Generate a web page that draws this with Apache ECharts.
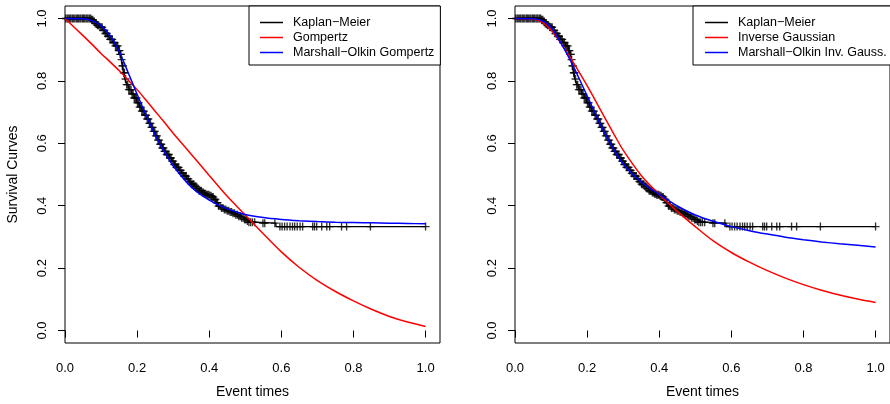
<!DOCTYPE html>
<html><head><meta charset="utf-8">
<script src="https://cdn.jsdelivr.net/npm/echarts@6.0.0/dist/echarts.min.js"></script>
<style>html,body{margin:0;padding:0;background:#fff}#c{width:890px;height:404px}</style>
</head><body><div id="c"></div>
<script>
const xTicks = [0, 0.2, 0.4, 0.6, 0.8, 1.0];
const yTicks = [0, 0.2, 0.4, 0.6, 0.8, 1.0];

// Kaplan-Meier step curve (change points)
const kmTime = [0, 0.072, 0.078, 0.084, 0.09, 0.097, 0.104, 0.111, 0.118, 0.125, 0.132, 0.14, 0.148, 0.153, 0.156, 0.159, 0.162, 0.166, 0.171, 0.177, 0.185, 0.192, 0.199, 0.206, 0.213, 0.22, 0.226, 0.233, 0.239, 0.245, 0.251, 0.257, 0.263, 0.27, 0.276, 0.282, 0.289, 0.296, 0.303, 0.309, 0.316, 0.323, 0.33, 0.337, 0.344, 0.351, 0.358, 0.365, 0.372, 0.379, 0.386, 0.393, 0.401, 0.408, 0.413, 0.419, 0.425, 0.433, 0.441, 0.449, 0.457, 0.466, 0.474, 0.482, 0.49, 0.497, 0.503, 0.51, 0.53, 0.585];
const kmSurv = [1.0, 0.996, 0.99, 0.984, 0.978, 0.972, 0.962, 0.952, 0.943, 0.933, 0.923, 0.912, 0.897, 0.885, 0.868, 0.848, 0.826, 0.806, 0.788, 0.772, 0.758, 0.745, 0.73, 0.716, 0.703, 0.69, 0.678, 0.664, 0.651, 0.638, 0.624, 0.61, 0.597, 0.585, 0.574, 0.564, 0.553, 0.543, 0.532, 0.523, 0.513, 0.504, 0.495, 0.486, 0.477, 0.469, 0.462, 0.455, 0.448, 0.442, 0.438, 0.435, 0.432, 0.428, 0.42, 0.41, 0.399, 0.393, 0.388, 0.384, 0.38, 0.376, 0.371, 0.366, 0.361, 0.356, 0.351, 0.347, 0.344, 0.333];
const kmLastTime = 1.0;

// censoring times ("+" marks)
const censTime = [0.002, 0.006, 0.009, 0.013, 0.016, 0.02, 0.023, 0.027, 0.031, 0.034, 0.037, 0.041, 0.044, 0.048, 0.051, 0.054, 0.058, 0.061, 0.064, 0.068, 0.071, 0.074, 0.077, 0.081, 0.084, 0.087, 0.09, 0.093, 0.097, 0.1, 0.103, 0.106, 0.109, 0.112, 0.116, 0.119, 0.122, 0.125, 0.128, 0.131, 0.134, 0.137, 0.14, 0.143, 0.146, 0.149, 0.151, 0.153, 0.155, 0.157, 0.159, 0.161, 0.163, 0.165, 0.168, 0.171, 0.174, 0.177, 0.18, 0.183, 0.186, 0.189, 0.192, 0.195, 0.198, 0.201, 0.204, 0.207, 0.21, 0.213, 0.216, 0.219, 0.222, 0.225, 0.228, 0.231, 0.234, 0.237, 0.24, 0.243, 0.246, 0.249, 0.252, 0.255, 0.258, 0.261, 0.264, 0.267, 0.27, 0.273, 0.276, 0.279, 0.282, 0.285, 0.288, 0.291, 0.294, 0.297, 0.3, 0.303, 0.306, 0.309, 0.312, 0.315, 0.318, 0.321, 0.324, 0.327, 0.33, 0.333, 0.336, 0.339, 0.342, 0.345, 0.348, 0.351, 0.354, 0.357, 0.36, 0.363, 0.366, 0.369, 0.372, 0.375, 0.378, 0.381, 0.384, 0.387, 0.39, 0.393, 0.396, 0.399, 0.402, 0.405, 0.408, 0.411, 0.414, 0.417, 0.42, 0.423, 0.426, 0.43, 0.434, 0.438, 0.442, 0.446, 0.45, 0.454, 0.458, 0.462, 0.466, 0.47, 0.474, 0.478, 0.482, 0.486, 0.49, 0.494, 0.498, 0.502, 0.506, 0.51, 0.515, 0.52, 0.526, 0.549, 0.554, 0.582, 0.596, 0.602, 0.609, 0.616, 0.624, 0.631, 0.637, 0.644, 0.652, 0.659, 0.687, 0.692, 0.698, 0.712, 0.726, 0.734, 0.767, 0.781, 0.847, 1.0];

// fitted curves
const fitT = [0, 0.05, 0.075, 0.1, 0.125, 0.15, 0.175, 0.2, 0.225, 0.25, 0.275, 0.3, 0.35, 0.4, 0.45, 0.5, 0.55, 0.6, 0.65, 0.7, 0.75, 0.8, 0.85, 0.9, 0.95, 1.0];
const gompertz   = [1.0, 0.945, 0.917, 0.888, 0.861, 0.833, 0.803, 0.772, 0.738, 0.703, 0.668, 0.632, 0.565, 0.497, 0.43, 0.37, 0.31, 0.252, 0.202, 0.16, 0.125, 0.095, 0.068, 0.045, 0.027, 0.013];
const moGompertz = [1.0, 0.999, 0.993, 0.977, 0.945, 0.895, 0.827, 0.757, 0.69, 0.627, 0.573, 0.528, 0.46, 0.418, 0.39, 0.372, 0.362, 0.356, 0.352, 0.349, 0.347, 0.346, 0.345, 0.344, 0.343, 0.342];
const invGauss   = [1.0, 0.998, 0.988, 0.963, 0.925, 0.881, 0.834, 0.785, 0.733, 0.68, 0.628, 0.578, 0.497, 0.436, 0.382, 0.333, 0.287, 0.25, 0.219, 0.192, 0.168, 0.147, 0.129, 0.114, 0.101, 0.09];
const moInvGauss = [1.0, 0.999, 0.993, 0.972, 0.926, 0.874, 0.815, 0.752, 0.69, 0.63, 0.578, 0.534, 0.476, 0.436, 0.399, 0.37, 0.35, 0.333, 0.32, 0.309, 0.299, 0.291, 0.284, 0.278, 0.273, 0.268];

const leftNames = ['Kaplan−Meier', 'Gompertz', 'Marshall−Olkin Gompertz'];
const rightNames = ['Kaplan−Meier', 'Inverse Gaussian', 'Marshall−Olkin Inv. Gauss.'];

function kmAt(t) { let v = kmSurv[0]; for (let i = 0; i < kmTime.length; i++) { if (kmTime[i] <= t) v = kmSurv[i]; } return v; }
const kmLine = kmTime.map((t, i) => [t, kmSurv[i]]).concat([[kmLastTime, kmSurv[kmSurv.length - 1]]]);
const censPts = censTime.map(t => [t, kmAt(t)]);
const pair = arr => fitT.map((t, i) => [t, arr[i]]);

const FONT = '"Liberation Sans", Arial, Helvetica, sans-serif';
const PLUS = 'path://M-0.17,-1H0.17V-0.17H1V0.17H0.17V1H-0.17V0.17H-1V-0.17H-0.17Z';

function xAxis(gi) {
  return { type: 'value', gridIndex: gi, min: 0, max: 1.04,
    name: 'Event times', nameLocation: 'middle', nameGap: 42,
    nameTextStyle: { fontFamily: FONT, fontSize: 14, color: '#000' },
    axisLine: { show: false },
    axisTick: { show: true, customValues: xTicks, length: 7, lineStyle: { color: '#000', width: 1 } },
    axisLabel: { show: true, customValues: xTicks, formatter: v => v.toFixed(1), margin: 19, fontFamily: FONT, fontSize: 13, color: '#000' },
    splitLine: { show: false } };
}
function yAxis(gi, title) {
  return { type: 'value', gridIndex: gi, min: -0.04, max: 1.04,
    name: title, nameLocation: 'middle', nameGap: 45, nameRotate: 90,
    nameTextStyle: { fontFamily: FONT, fontSize: 14, color: '#000' },
    axisLine: { show: false },
    axisTick: { show: true, customValues: yTicks, length: 7, lineStyle: { color: '#000', width: 1 } },
    axisLabel: { show: true, customValues: yTicks, formatter: v => v.toFixed(1), rotate: 90, margin: 16, fontFamily: FONT, fontSize: 13, color: '#000' },
    splitLine: { show: false } };
}
function legend(left, names, padLeft) {
  return { show: true, orient: 'vertical', left: left, top: 6, data: names, selectedMode: false,
    borderColor: '#000', borderWidth: 1, borderRadius: 0, backgroundColor: '#fff',
    padding: [9, 6, 5, padLeft], icon: 'rect', itemWidth: 23, itemHeight: 1.5, itemGap: 0,
    textStyle: { fontFamily: FONT, fontSize: 12.5, lineHeight: 15, color: '#000', padding: [0, 0, 0, 5] } };
}
function lineSeries(name, gi, data, color, width, step) {
  return { type: 'line', name: name, xAxisIndex: gi, yAxisIndex: gi, data: data,
    symbol: 'none', showSymbol: false, smooth: step ? false : 0.3, step: step ? 'end' : false,
    lineStyle: { color: color, width: width }, itemStyle: { color: color },
    emphasis: { disabled: true }, silent: true };
}
function censSeries(gi) {
  return { type: 'scatter', name: 'censored' + gi, xAxisIndex: gi, yAxisIndex: gi, data: censPts,
    symbol: PLUS, symbolSize: 8, itemStyle: { color: '#000' }, silent: true };
}

const chart = echarts.init(document.getElementById('c'), null, { renderer: 'canvas' });
chart.setOption({
  animation: false,
  backgroundColor: '#fff',
  grid: [
    { left: 65, top: 6, width: 375, height: 342, show: true, borderColor: '#000', borderWidth: 1, backgroundColor: 'transparent' },
    { left: 515, top: 6, width: 375, height: 342, show: true, borderColor: '#000', borderWidth: 1, backgroundColor: 'transparent' }
  ],
  xAxis: [xAxis(0), xAxis(1)],
  yAxis: [yAxis(0, 'Survival Curves'), yAxis(1, '')],
  legend: [legend(249, leftNames, 11), legend(693, rightNames, 12)],
  series: [
    lineSeries(leftNames[0], 0, kmLine, '#000', 1.3, true),
    censSeries(0),
    lineSeries(leftNames[1], 0, pair(gompertz), '#ff0000', 1.5, false),
    lineSeries(leftNames[2], 0, pair(moGompertz), '#0000ff', 1.5, false),
    lineSeries(rightNames[0], 1, kmLine, '#000', 1.3, true),
    censSeries(1),
    lineSeries(rightNames[1], 1, pair(invGauss), '#ff0000', 1.5, false),
    lineSeries(rightNames[2], 1, pair(moInvGauss), '#0000ff', 1.5, false)
  ]
});
</script>
</body></html>
